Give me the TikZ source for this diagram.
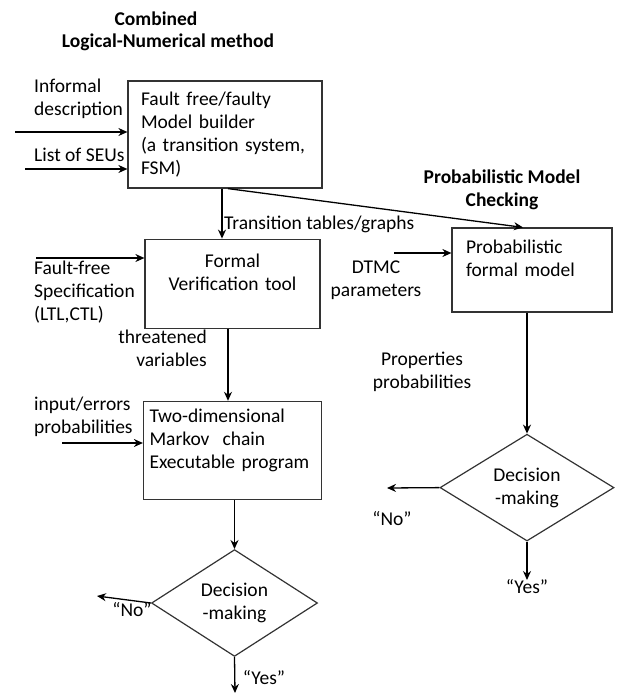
\documentclass[tikz,border=0pt]{standalone}
\usepackage{fontspec}
\setmainfont{Carlito}
\usetikzlibrary{
	arrows.meta,
	positioning,
	shapes.geometric
}
\newcommand{\diagfont}{\fontsize{19.5}{23}\selectfont}
\tikzset{
	>={Stealth[length=9pt, width=8pt]},
	flow/.style={->, line width=1.3pt},
	procbox/.style={draw=black!80, line width=1.2pt, inner xsep=14pt, inner ysep=0pt, align=left},
	decision/.style={draw=black!80, line width=1.2pt, diamond, inner sep=0pt, align=center},
	note/.style={inner sep=0pt, align=left},
	heading/.style={inner sep=0pt, align=center, font=\diagfont\bfseries}
}

\begin{document}
\begin{tikzpicture}[x=1pt, y=-1pt, every node/.style={font=\diagfont}]
	\useasboundingbox (0,0) rectangle (617,694);

	% headings
	\node[heading] (titleA) at (156,19) {Combined};
	\node[heading] (titleB) at (168,42) {Logical-Numerical method};
	\node[heading] (titleC) at (502,190) {Probabilistic Model\\Checking};

	% blocks
	\node[procbox, text width=168pt, inner xsep=13pt, minimum height=107pt] (builder) at (225,134.5) {Fault free/faulty\\Model builder\\(a transition system,\\FSM)};
	\node[procbox, align=center, text width=147pt, minimum height=89pt] (verif) [below=50pt of builder, xshift=7.5pt] {Formal\\Verification tool\\\mbox{}};
	\node[procbox, text width=166pt, inner xsep=6pt, minimum height=98pt] (markov) [below=72pt of verif] {Two-dimensional\\Markov\ \ chain\\Executable program\\\mbox{}};
	\node[decision, minimum width=166pt, minimum height=103pt] (decA) [below=49pt of markov, xshift=2pt] {Decision\\-making};
	\node[procbox, text width=132pt, minimum height=84pt] (probmodel) at (532,270) {Probabilistic\\formal model\\\mbox{}};
	\node[decision, minimum width=174pt, minimum height=106pt] (decB) [below=121pt of probmodel, xshift=-5pt] {Decision\\-making};

	% labels
	\node[note, anchor=west] (lblInformal) at (34,99) {Informal\\description};
	\node[note, anchor=west] (lblSEU) at (34,155) {List of SEUs};
	\node[note, anchor=west] (lblTrans) at (224,224) {Transition tables/graphs};
	\node[note, anchor=west] (lblSpec) at (34,292) {Fault-free\\Specification\\(LTL,CTL)};
	\node[note, anchor=east, align=right] (lblThreat) at (207,348) {threatened\\variables};
	\node[note, anchor=west] (lblErr) at (34,416.5) {input/errors\\probabilities};
	\node[note, align=center] (lblDTMC) at (376,280) {DTMC\\parameters};
	\node[note, align=center] (lblProps) at (422,372) {Properties\\probabilities};
	\node[note] (noA) at (132,610) {“No”};
	\node[note] (yesA) at (264,678) {“Yes”};
	\node[note] (noB) at (392,519) {“No”};
	\node[note] (yesB) at (527,587) {“Yes”};

	\coordinate (srcInformal) at (15,132);
	\coordinate (srcSEU) at (25,169);
	\coordinate (srcSpec) at (36,258);
	\coordinate (srcErr) at (62,443);
	\coordinate (srcDTMC) at (394,253);
	\coordinate (endNoA) at (97,596);
	\coordinate (endYesA) at (235,693);
	\coordinate (endNoB) at (387,488);
	\coordinate (endYesB) at (527,580);
	\coordinate (builderOutA) at ([xshift=-3pt]builder.south);
	\coordinate (builderOutB) at ([xshift=3pt]builder.south);
	\coordinate (probIn) at ([xshift=-9pt]probmodel.north);
	\coordinate (verifOut) at ([xshift=-4.5pt]verif.south);

	\path[flow]
		(srcInformal) edge (srcInformal -| builder.west)
		(srcSEU) edge (srcSEU -| builder.west)
		(srcSpec) edge (srcSpec -| verif.west)
		(srcErr) edge (srcErr -| markov.west)
		(srcDTMC) edge (srcDTMC -| probmodel.west)
	;

	\path[flow]
		(builderOutA) edge (builderOutA |- verif.north)
		(builderOutB) edge (probIn)
		(verifOut) edge (verifOut |- markov.north)
		(decA.north |- markov.south) edge (decA.north)
		(decB.north |- probmodel.south) edge (decB.north)
	;

	\path[flow]
		(decA.west) edge (endNoA)
		(decA.south) edge (endYesA)
		(decB.west) edge (endNoB)
		(decB.south) edge (endYesB)
	;
\end{tikzpicture}
\end{document}
